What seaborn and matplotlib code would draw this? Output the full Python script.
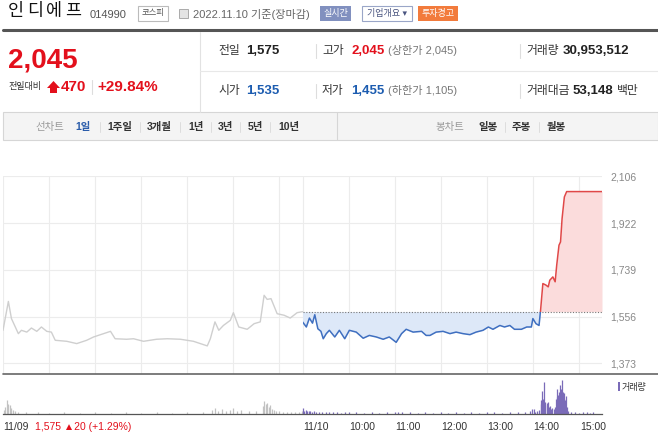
import numpy as np
import pandas as pd
import matplotlib
matplotlib.use('Agg')
import matplotlib.pyplot as plt
import seaborn as sns
from matplotlib.patches import Rectangle, Polygon
from matplotlib.lines import Line2D

# ---- data ----
prev_close = 1575          # 11/09 close (base for 11/10)
session_len = 390          # minutes 09:00 -> 15:30

# 11/09 intraday, minutes from 09:00
t_1109 = [0, 7, 11, 20, 24, 31, 37, 44, 50, 57, 63, 68, 83, 96, 109, 118, 127, 140, 146, 161,
          170, 183, 200, 214, 231, 248, 266, 270, 276, 281, 287, 296, 300, 307, 318, 327, 335, 340,
          344, 349, 357, 366, 374, 383, 390]
p_1109 = [1502, 1615, 1548, 1489, 1502, 1495, 1511, 1498, 1515, 1498, 1495, 1463, 1459, 1450, 1463,
          1476, 1485, 1498, 1469, 1467, 1469, 1459, 1467, 1469, 1467, 1459, 1441, 1469, 1535, 1502,
          1521, 1541, 1571, 1515, 1506, 1528, 1535, 1639, 1623, 1626, 1567, 1561, 1550, 1571, 1575]

# 11/10 intraday, minutes from 09:00
t_1110 = [0, 5, 9, 13, 16, 20, 24, 27, 31, 35, 42, 48, 55, 61, 70, 79, 87, 96, 105, 113,
          122, 129, 135, 144, 155, 161, 166, 174, 183, 192, 200, 209, 218, 226, 235, 242, 248, 257,
          263, 270, 276, 285, 292, 298, 300, 304, 308, 310, 313, 317, 320, 322, 326, 329, 331, 334,
          336, 338, 341, 344, 390]
p_1110 = [1535, 1515, 1550, 1530, 1563, 1508, 1498, 1469, 1489, 1502, 1476, 1502, 1469, 1502, 1495,
          1471, 1482, 1476, 1467, 1476, 1455, 1489, 1506, 1495, 1498, 1482, 1482, 1495, 1498, 1489,
          1495, 1489, 1485, 1495, 1502, 1515, 1506, 1521, 1515, 1521, 1506, 1506, 1515, 1515, 1548,
          1528, 1521, 1580, 1685, 1679, 1672, 1698, 1711, 1692, 1756, 1835, 1848, 1939, 2024, 2045,
          2045]

# volume (thousand shares), minutes from 09:00
vt_1109 = [1, 3, 5, 7, 9, 11, 13, 16, 20, 30, 45, 60, 80, 100, 120, 140, 160, 180, 200, 220, 240,
           260, 272, 276, 280, 285, 290, 295, 300, 305, 310, 320, 330, 338, 340, 342, 344, 346, 348,
           350, 353, 356, 360, 365, 370, 375, 380, 385, 389]
v_1109 = [160, 280, 560, 400, 360, 240, 160, 120, 80, 80, 80, 60, 80, 60, 80, 60, 80, 60, 80, 60, 80,
          80, 160, 240, 120, 200, 120, 160, 240, 120, 160, 120, 120, 320, 520, 400, 440, 280, 360,
          200, 160, 120, 120, 80, 80, 80, 80, 80, 120]
vt_1110 = [0, 2, 4, 6, 8, 10, 12, 15, 18, 22, 26, 30, 35, 40, 45, 50, 55, 60, 70, 80, 90, 100, 110,
           120, 125, 130, 140, 150, 160, 170, 180, 190, 200, 210, 220, 230, 240, 250, 260, 270, 280,
           290, 296, 299, 301, 303, 305, 308, 310, 311, 312, 313, 315, 316, 318, 319, 320, 321, 322,
           324, 325, 327, 329, 330, 331, 332, 333, 334, 335, 336, 337, 338, 339, 340, 341, 342, 343,
           344, 346, 350, 355, 360, 365, 370, 375, 378]
v_1110 = [240, 120, 160, 120, 120, 120, 80, 120, 80, 80, 80, 80, 80, 80, 80, 60, 80, 80, 80, 60, 80,
          60, 80, 80, 100, 80, 80, 60, 80, 60, 80, 60, 80, 60, 80, 60, 80, 80, 60, 80, 80, 80, 120,
          200, 200, 80, 120, 160, 560, 400, 920, 600, 1280, 500, 360, 440, 480, 300, 320, 200, 240,
          200, 280, 600, 1000, 700, 760, 900, 1160, 800, 1000, 1360, 900, 840, 600, 560, 720, 300,
          120, 80, 80, 60, 80, 80, 60, 80]

ytick_vals = [1373, 1556, 1739, 1922, 2106]
hour_labels = ['10:00', '11:00', '12:00', '13:00', '14:00', '15:00']

# ---- style ----
sns.set_style('white')
plt.rcParams['font.family'] = ['Liberation Sans', 'Noto Sans CJK KR', 'DejaVu Sans']

W, H = 658, 448
RED = '#e3101c'
BLUE = '#1c5cb0'
fig = plt.figure(figsize=(W / 100, H / 100), dpi=100)
fig.patch.set_facecolor('white')


def fx(x):
    return x / W


def fy(y):
    return 1 - y / H


def txt(x, y, s, **kw):
    kw.setdefault('va', 'center')
    kw.setdefault('color', '#333')
    fig.text(fx(x), fy(y), s, **kw)


def box(x, y, w, h, **kw):
    fig.add_artist(Rectangle((fx(x), fy(y + h)), w / W, h / H, transform=fig.transFigure, **kw))


def hl(x0, x1, y, **kw):
    fig.add_artist(Line2D([fx(x0), fx(x1)], [fy(y), fy(y)], transform=fig.transFigure, **kw))


def vl(x, y0, y1, **kw):
    fig.add_artist(Line2D([fx(x), fx(x)], [fy(y0), fy(y1)], transform=fig.transFigure, **kw))


# ---- header ----
for i, ch in enumerate('인디에프'):
    txt(8 + 19 * i, 11, ch, size=12.5, color='#111')
txt(90, 15, '014990', size=8, color='#555')
box(138, 6, 30, 15, fc='white', ec='#bbbbbb', lw=0.8)
txt(153, 13.5, '코스피', size=6, ha='center', color='#555')
box(179, 9, 9, 9, fc='#e4e4e4', ec='#aaaaaa', lw=0.7)
txt(193, 14, '2022.11.10 기준(장마감)', size=8, color='#666')
box(320, 6, 31, 15, fc='#8190bf', ec='none')
txt(335.5, 13.5, '실시간', size=6.5, ha='center', color='white')
box(362, 6, 50, 15, fc='white', ec='#9aa6c8', lw=0.8)
txt(387, 13.5, '기업개요 ▾', size=6.5, ha='center', color='#4a5580')
box(418, 6, 40, 15, fc='#f27b3c', ec='none')
txt(438, 13.5, '투자경고', size=6.5, ha='center', color='white')
hl(3, 658, 30.5, color='#555', lw=2.2)

# left summary
txt(8, 60, '2,045', size=20, weight='bold', color=RED)
txt(8, 87, '전일대비', size=6.5, color='#333')
fig.add_artist(Polygon([(fx(47), fy(88)), (fx(53.5), fy(81)), (fx(60), fy(88)), (fx(57), fy(88)),
                        (fx(57), fy(93)), (fx(50), fy(93)), (fx(50), fy(88))],
                       closed=True, transform=fig.transFigure, fc=RED, ec='none'))
txt(61, 87, '470', size=11, weight='bold', color=RED)
vl(92, 80, 94, color='#dddddd', lw=0.8)
txt(97, 87, '+29.84%', size=11, weight='bold', color=RED)
vl(200, 32, 112, color='#e2e2e2', lw=0.8)
hl(200, 658, 71, color='#e8e8e8', lw=0.8)

# right info rows
for y, a_lab, a_val, a_col, b_lab, b_val, b_note, c_lab in [
        (51, '전일', '1,575', '#222', '고가', '2,045', '(상한가 2,045)', '거래량'),
        (91, '시가', '1,535', BLUE, '저가', '1,455', '(하한가 1,105)', '거래대금')]:
    b_col = RED if b_lab == '고가' else BLUE
    txt(218, y, a_lab, size=8.5, color='#333')
    txt(246, y, a_val, size=9.5, weight='bold', color=a_col)
    vl(316, y - 7, y + 7, color='#dddddd', lw=0.8)
    txt(322, y, b_lab, size=8.5, color='#333')
    txt(351, y, b_val, size=9.5, weight='bold', color=b_col)
    txt(388, y, b_note, size=8, color='#777')
    vl(520, y - 7, y + 7, color='#dddddd', lw=0.8)
    txt(526, y, c_lab, size=8.5, color='#333')
txt(563, 51, '30,953,512', size=9.5, weight='bold', color='#222')
txt(573, 91, '53,148', size=9.5, weight='bold', color='#222')
txt(617, 91, '백만', size=8.5, color='#333')

# period tab bar
box(3, 112, 655, 28, fc='#f4f4f4', ec='#d6d6d6', lw=0.8)
vl(337, 112, 140, color='#d6d6d6', lw=0.8)
txt(35, 127, '선차트', size=7.5, color='#999')
txt(75, 127, '1일', size=7.5, weight='bold', color='#2a5caa')
for x, s in [(107, '1주일'), (147, '3개월'), (188, '1년'), (218, '3년'), (248, '5년'), (278, '10년')]:
    txt(x, 127, s, size=7.5, weight='bold', color='#333')
for x in [100, 140, 180, 211, 240, 270]:
    vl(x, 122, 132, color='#dddddd', lw=0.7)
txt(436, 127, '봉차트', size=7.5, color='#999')
for x, s in [(478, '일봉'), (512, '주봉'), (547, '월봉')]:
    txt(x, 127, s, size=7.5, weight='bold', color='#333')
for x in [505, 539]:
    vl(x, 122, 132, color='#dddddd', lw=0.7)

# ---- price chart ----
d09 = pd.DataFrame({'t': t_1109, 'price': p_1109})
d10 = pd.DataFrame({'t': np.array(t_1110) + session_len, 'price': p_1110})
ymin, ymax = 1331, 2106

ax = fig.add_axes([fx(3), fy(374), (602 - 3) / W, (374 - 176) / H])
ax.set_xlim(0, 2 * session_len)
ax.set_ylim(ymin, ymax)

ax.fill_between(d10['t'], d10['price'], prev_close, where=d10['price'] <= prev_close,
                interpolate=True, color='#dde8f8', lw=0)
ax.fill_between(d10['t'], d10['price'], prev_close, where=d10['price'] >= prev_close,
                interpolate=True, color='#fbdcdc', lw=0)
ax.hlines(prev_close, session_len, 2 * session_len, colors='#777', linestyles=(0, (1, 1.5)), lw=0.8)

sns.lineplot(data=d09, x='t', y='price', color='#cfcfcf', lw=1.0, estimator=None, ax=ax)
for col, y0, h in [('#3f6fc0', ymin, prev_close - ymin), ('#e04848', prev_close, ymax - prev_close)]:
    sns.lineplot(data=d10, x='t', y='price', color=col, lw=1.1, estimator=None, ax=ax)
    clip = Rectangle((session_len, y0), session_len, h, transform=ax.transData)
    ax.lines[-1].set_clip_path(clip)

ax.set_xticks([0] + [60 * i for i in range(1, 7)] + [session_len + 60 * i for i in range(0, 7)])
ax.set_yticks(ytick_vals)
ax.set_yticklabels([f'{v:,}' for v in ytick_vals])
ax.yaxis.tick_right()
ax.tick_params(axis='y', length=0, pad=6, labelsize=7.5, labelcolor='#888')
ax.tick_params(axis='x', length=0, labelbottom=False)
ax.grid(True, color='#ececec', lw=0.8)
ax.set_xlabel('')
ax.set_ylabel('')
sns.despine(ax=ax, left=True, bottom=True, right=True, top=True)
ax.set_axisbelow(True)

hl(3, 658, 374, color='#666', lw=1.2)

# ---- volume ----
vax = fig.add_axes([fx(3), fy(414), 599 / W, 40 / H])
vax.set_xlim(0, 2 * session_len)
vax.set_ylim(0, 1600)
vax.vlines(vt_1109, 0, v_1109, colors='#c2c2c2', lw=0.9)
vax.vlines(np.array(vt_1110) + session_len, 0, v_1110, colors='#7a6bb8', lw=0.9)
sns.despine(ax=vax, left=True, top=True, right=True)
vax.spines['bottom'].set_color('#555')
vax.spines['bottom'].set_linewidth(0.9)
vax.set_yticks([])
tick_pos = [0, session_len] + [session_len + 60 * i for i in range(1, 7)]
vax.set_xticks(tick_pos)
vax.tick_params(axis='x', direction='inout', length=6, width=0.8, color='#444', labelbottom=False)

lab_y = -13 / 40
xt = vax.get_xaxis_transform()
vax.text(0.5, lab_y, '11/09', transform=xt, size=7.5, color='#333', va='center')
vax.text(42, lab_y, '1,575 ▲20 (+1.29%)', transform=xt, size=7.5, color=RED, va='center')
vax.text(session_len + 0.5, lab_y, '11/10', transform=xt, size=7.5, color='#333', va='center')
for i, lab in enumerate(hour_labels):
    vax.text(session_len + 60 * (i + 1) + 1, lab_y, lab, transform=xt,
             size=7.5, color='#333', va='center')

box(618, 382, 2, 9, fc='#7a6bb8', ec='none')
txt(622, 387, '거래량', size=6.5, color='#333')

fig.savefig('out.png', dpi=100)
